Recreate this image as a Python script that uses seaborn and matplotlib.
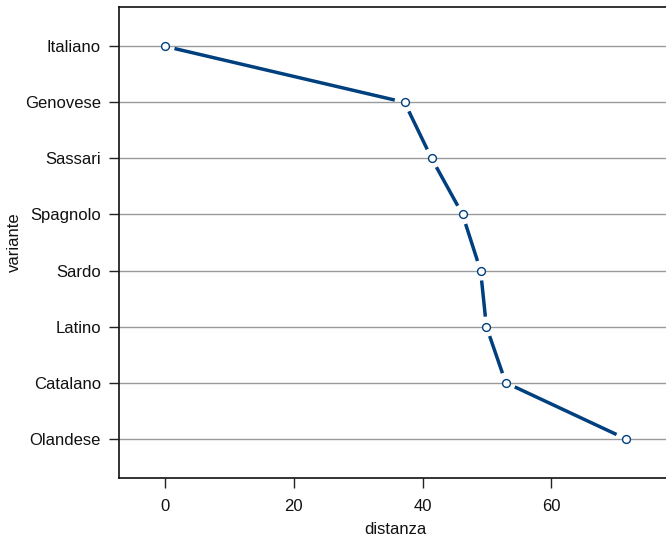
import numpy as np
import pandas as pd
import matplotlib
matplotlib.use("Agg")
import matplotlib.pyplot as plt
import seaborn as sns

varianti = ["Italiano", "Genovese", "Sassari", "Spagnolo", "Sardo", "Latino", "Catalano", "Olandese"]
distanze = [0.0, 37.2, 41.4, 46.2, 49.0, 49.9, 52.9, 71.5]

df = pd.DataFrame({"variante": varianti, "distanza": distanze})

sns.set_theme(style="white")
plt.rcParams["font.family"] = ["Liberation Sans", "DejaVu Sans"]

fig = plt.figure(figsize=(6.66, 5.39), dpi=100)
ax = fig.add_axes([119 / 666, 61 / 539, 1.01 - 119 / 666, (478 - 7) / 539])

line_color = "#00407f"
grid_color = "#9a9a9a"
XLIM = (-7.1, 78.8)

ypos = np.arange(len(varianti))
for y in ypos:
    ax.axhline(y, color=grid_color, lw=1.0, zorder=1)

# markers via seaborn
sns.scatterplot(data=df, x="distanza", y="variante", ax=ax, marker="o", s=32,
                facecolor="white", edgecolor=line_color, linewidth=1.0, zorder=4)
ax.set_ylim(len(varianti) - 1 + 0.7, -0.7)
ax.set_xlim(*XLIM)

# segments with gaps (R type="b")
fig.canvas.draw()
trans = ax.transData
inv = trans.inverted()
pts = trans.transform(np.column_stack([distanze, ypos]))
gap = 10.0
for i in range(len(pts) - 1):
    p0, p1 = pts[i], pts[i + 1]
    d = p1 - p0
    L = np.hypot(*d)
    if L <= 2 * gap:
        continue
    u = d / L
    a = inv.transform(p0 + u * gap)
    b = inv.transform(p1 - u * gap)
    ax.plot([a[0], b[0]], [a[1], b[1]], color=line_color, lw=2.5,
            solid_capstyle="butt", zorder=3)

ax.set_xticks([0, 20, 40, 60])
ax.set_yticks(ypos)
ax.set_yticklabels(varianti)
ax.tick_params(axis="both", direction="out", length=7, width=1.0, color="#222222",
               labelsize=12, labelcolor="#111111", left=True, bottom=True)
ax.tick_params(axis="y", pad=6)
ax.tick_params(axis="x", pad=8)
ax.set_xlabel("distanza", fontsize=12, color="#111111", labelpad=6)
ax.set_ylabel("variante", fontsize=12, color="#111111", labelpad=2)

for side in ["left", "top", "bottom"]:
    ax.spines[side].set_visible(True)
    ax.spines[side].set_color("#111111")
    ax.spines[side].set_linewidth(1.2)
ax.spines["right"].set_visible(False)

fig.savefig("out.png", dpi=100)
